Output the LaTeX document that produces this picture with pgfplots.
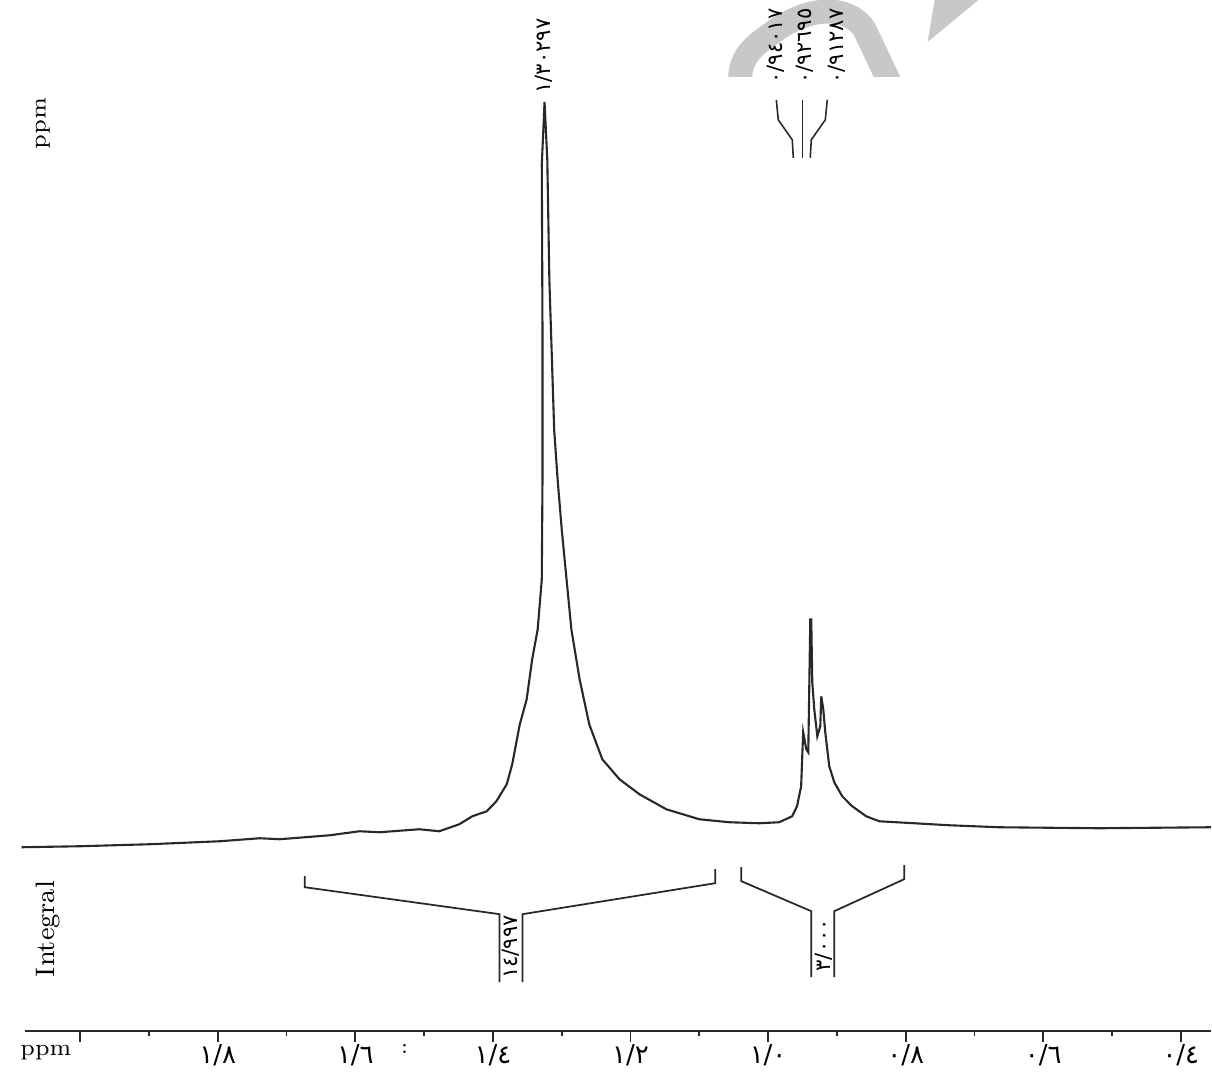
\documentclass[border=0pt]{standalone}
\usepackage{fontspec}
\usepackage{pgfplots}
\pgfplotsset{compat=1.18}
\newfontfamily\arabicfont[Script=Arabic]{DejaVu Sans}
\definecolor{ink}{RGB}{40,40,40}
\definecolor{wmark}{RGB}{200,200,200}
\newcommand{\ticklbl}{\arabicfont\fontsize{7.4pt}{8pt}\selectfont}
\newcommand{\peaklbl}{\arabicfont\fontsize{6pt}{7pt}\selectfont}

\begin{document}
\begin{tikzpicture}
% frame of the scanned page, 1px = 0.01cm, origin top left
\begin{scope}[shift={(-0.25cm,10.32cm)}, x=0.01cm, y=-0.01cm]
  \path[use as bounding box] (0,0) rectangle (1212,1074);
  \begin{scope}
    \clip (700,0) rectangle (1000,77);
    \draw[wmark, line width=0.24cm] (742,85) .. controls (738,62) and (752,47) .. (772,34)
      .. controls (805,8) and (848,2) .. (866,30) -- (892,85);
    \fill[wmark] (929,42) -- (936,0) -- (980,0) -- cycle;
  \end{scope}
\end{scope}

\begin{axis}[
  scale only axis,
  width=11.87cm, height=10.32cm,
  xmin=0.3563, xmax=2.0803, x dir=reverse,
  ymin=-192, ymax=840,
  axis x line=bottom, axis y line=none,
  axis line style={-, ink, line width=0.6pt},
  x axis line style={-},
  ytick=\empty,
  xtick={2.0,1.8,1.6,1.4,1.2,1.0,0.8,0.6,0.4},
  xticklabels={{},{١/٨},{١/٦},{١/٤},{١/٢},{١/٠},{٠/٨},{٠/٦},{٠/٤}},
  minor xtick={1.9,1.7,1.5,1.3,1.1,0.9,0.7,0.5},
  tick align=outside,
  major tick length=0.11cm, minor tick length=0.05cm,
  tick style={ink, line width=0.5pt},
  xticklabel style={font=\ticklbl, anchor=center, inner sep=0pt, yshift=-0.13cm},
  clip=false,
]
% spectrum
\addplot[ink, line width=0.6pt] coordinates {
  (2.085,-8) (2.000,-7) (1.899,-5) (1.797,-2) (1.739,1) (1.710,0) (1.637,4)
  (1.594,8) (1.565,7) (1.507,10) (1.478,8) (1.449,15) (1.430,23) (1.409,28)
  (1.395,38) (1.380,55) (1.372,75) (1.361,115) (1.351,140) (1.343,180)
  (1.335,210) (1.329,260) (1.328,360) (1.328,510) (1.329,675) (1.325,738)
  (1.321,680) (1.318,560) (1.311,410) (1.306,360) (1.300,310) (1.293,260)
  (1.286,210) (1.274,160) (1.260,115) (1.241,80) (1.216,60) (1.187,45)
  (1.148,30) (1.100,20) (1.056,17) (1.013,16) (0.984,17) (0.965,23)
  (0.958,33) (0.952,53) (0.950,90) (0.949,107) (0.9445,90) (0.9416,87)
  (0.9387,220) (0.9373,220) (0.9358,157) (0.9329,130) (0.9285,103)
  (0.9242,113) (0.9227,143) (0.9198,130) (0.9169,107) (0.9111,73)
  (0.9038,57) (0.8922,43) (0.8777,33) (0.8574,23) (0.8385,18) (0.7368,14)
  (0.6642,12) (0.5190,11) (0.3563,12)
};
% peak pointers
\addplot[ink, line width=0.45pt] coordinates {(0.9881,740) (0.9852,720) (0.9649,700) (0.9634,682)};
\addplot[ink, line width=0.45pt] coordinates {(0.9503,740) (0.9503,682)};
\addplot[ink, line width=0.45pt] coordinates {(0.9140,740) (0.9169,720) (0.9373,700) (0.9387,682)};
% integrals
\addplot[ink, line width=0.5pt] coordinates {(1.6736,-37) (1.6736,-48) (1.3904,-75) (1.3904,-143)};
\addplot[ink, line width=0.5pt] coordinates {(1.3570,-143) (1.3570,-75) (1.0767,-44) (1.0767,-30)};
\addplot[ink, line width=0.5pt] coordinates {(1.0389,-28) (1.0389,-42) (0.9373,-72) (0.9373,-138)};
\addplot[ink, line width=0.5pt] coordinates {(0.9038,-138) (0.9038,-72) (0.8022,-40) (0.8022,-26)};

% labels
\node[rotate=90, inner sep=0pt, font=\peaklbl] at (axis cs:1.3265,784) {١/٣٠٢٩٧};
\node[rotate=90, inner sep=0pt, font=\peaklbl] at (axis cs:0.9895,794) {٠/٩٤٠١٧};
\node[rotate=90, inner sep=0pt, font=\peaklbl] at (axis cs:0.9474,794) {٠/٩٢٦٩٥};
\node[rotate=90, inner sep=0pt, font=\peaklbl] at (axis cs:0.8995,794) {٠/٩١٢٨٧};
\node[rotate=90, inner sep=0pt, font=\peaklbl] at (axis cs:1.3744,-108) {١٤/٩٩٧};
\node[rotate=90, inner sep=0pt, font=\peaklbl] at (axis cs:0.9184,-106) {٣/٠٠٠};
\node[rotate=90, inner sep=0pt, font=\fontsize{6.3pt}{7pt}\selectfont] at (axis cs:2.0542,716) {ppm};
\node[rotate=90, inner sep=0pt, font=\fontsize{7.6pt}{9pt}\selectfont] at (axis cs:2.0469,-90) {Integral};
\node[inner sep=0pt, font=\fontsize{6.6pt}{7pt}\selectfont] at (axis cs:2.0498,-214) {ppm};
\node[inner sep=0pt, font=\fontsize{6pt}{7pt}\selectfont] at (axis cs:1.5284,-210) {:};
\end{axis}
\end{tikzpicture}
\end{document}
